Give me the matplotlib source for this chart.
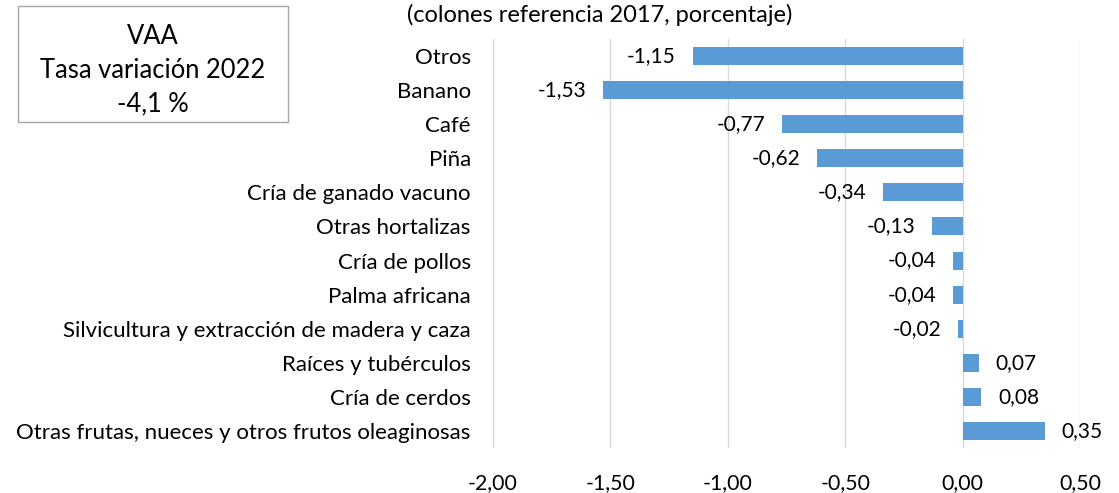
import matplotlib
matplotlib.use("Agg")
import matplotlib.pyplot as plt
from matplotlib.patches import Rectangle

categories = ["Otros", "Banano", "Café", "Piña", "Cría de ganado vacuno",
              "Otras hortalizas", "Cría de pollos", "Palma africana",
              "Silvicultura y extracción de madera y caza",
              "Raíces y tubérculos", "Cría de cerdos",
              "Otras frutas, nueces y otros frutos oleaginosas"]
values = [-1.15, -1.53, -0.77, -0.62, -0.34, -0.13, -0.04, -0.04, -0.02, 0.07, 0.08, 0.35]
xticks = [-2.0, -1.5, -1.0, -0.5, 0.0, 0.5]
title = "(colones referencia 2017, porcentaje)"
box_lines = ["VAA", "Tasa variación 2022", "-4,1 %"]

plt.rcParams['font.family'] = ['Lato', 'DejaVu Sans']
fig = plt.figure(figsize=(11.19, 4.93), dpi=100)
ax = fig.add_axes([493/1119, 1-448/493, (1080-493)/1119, (448-39)/493])

n = len(categories)
ys = list(range(n))
ax.barh(ys, values, height=0.53, color="#5b9bd5", zorder=3)
ax.set_ylim(n - 0.5, -0.5)
ax.set_xlim(-2.0, 0.5)
ax.set_yticks(ys)
ax.set_yticklabels(categories, fontsize=16)
ax.set_xticks(xticks)
ax.set_xticklabels([f"{v:.2f}".replace(".", ",") for v in xticks], fontsize=15.3)
ax.tick_params(length=0)
ax.tick_params(axis='y', pad=16)
ax.tick_params(axis='x', pad=18)
ax.grid(axis='x', color="#d9d9d9", linewidth=1, zorder=0)
for s in ax.spines.values():
    s.set_visible(False)

for y, v in zip(ys, values):
    lab = f"{v:.2f}".replace(".", ",")
    if v < 0:
        ax.annotate(lab, (v, y), xytext=(-12, 0), textcoords="offset points",
                    ha="right", va="center", fontsize=15)
    else:
        ax.annotate(lab, (v, y), xytext=(12, 0), textcoords="offset points",
                    ha="left", va="center", fontsize=15)

fig.text(600/1119, 1-15/493, title, ha="center", va="center", fontsize=17)

fig.patches.append(Rectangle((18/1119, 1-122/493), 270/1119, 116/493,
                             transform=fig.transFigure, fill=False,
                             edgecolor="#a6a6a6", linewidth=1))
for i, t in enumerate(box_lines):
    fig.text(153/1119, 1-(36 + 34*i)/493, t, ha="center", va="center", fontsize=18.4)

fig.savefig("out.png", dpi=100)
